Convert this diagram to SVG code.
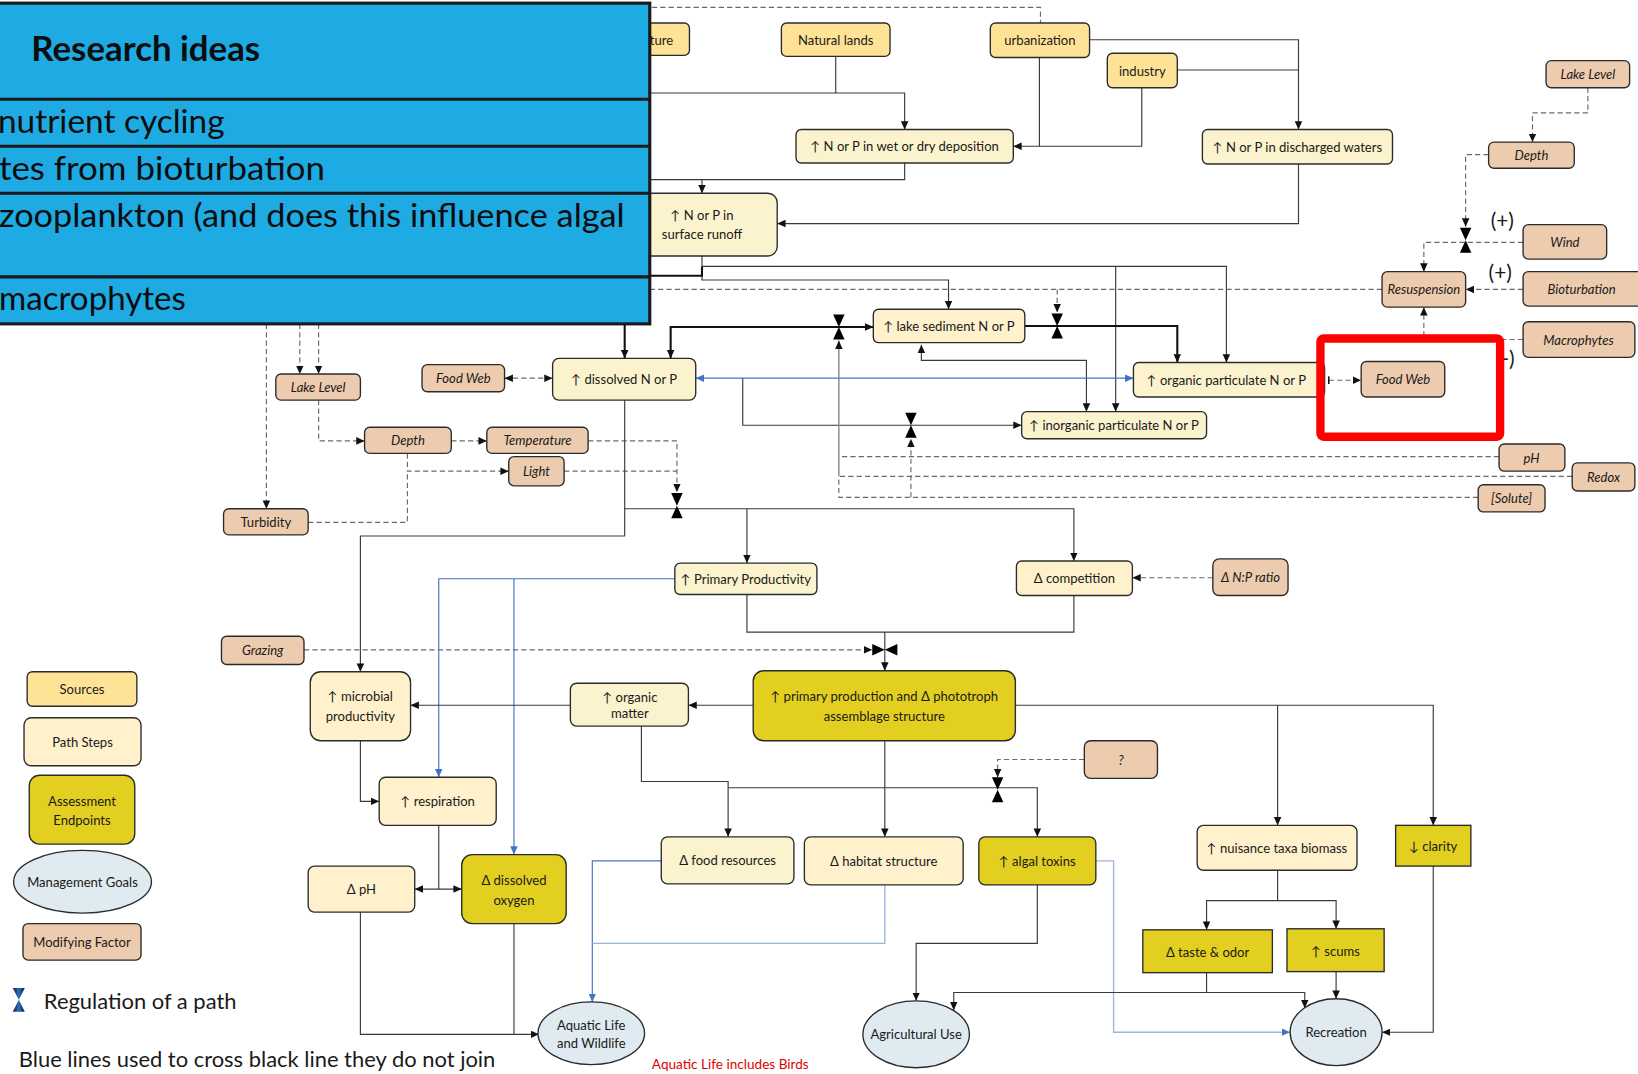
<svg xmlns="http://www.w3.org/2000/svg" width="1638" height="1074" viewBox="0 0 1638 1074">
<style>
.n rect,.n ellipse{stroke:#2b2b2b;stroke-width:1.3}
.src{fill:#FEE396}
.ps{fill:#FBF3CD}
.ps2{fill:#FEF1CC}
.ae{fill:#E3CF20}
.mg{fill:#DFEBF0}
.mf{fill:#EDCBAE}
text{font-family:Lato,"Open Sans","Liberation Sans",sans-serif;fill:#1a1a1a}
.t{font-size:12.5px;text-anchor:middle;dominant-baseline:central}
.i{font-style:italic}
.ln{fill:none;stroke:#3a3a3a;stroke-width:1.1}
.th{stroke:#111;stroke-width:2}
.gr{stroke:#8a8a8a;stroke-width:1.4}
.dl{fill:none;stroke:#6a6a6a;stroke-width:1.1;stroke-dasharray:5 3}
.bl{fill:none;stroke:#4472C4;stroke-width:1.1}
.blt{fill:none;stroke:#9DB4E0;stroke-width:1.3}
.hg{fill:#000}
.pt{font-size:31px;fill:#0d0d0d}
.pl{fill:none;stroke:#1a1a1a;stroke-width:3}
</style>
<defs>
<marker id="a" viewBox="0 0 10 10" refX="10" refY="5" markerWidth="8" markerHeight="8" markerUnits="userSpaceOnUse" orient="auto-start-reverse"><path d="M0,0.5 L10,5 L0,9.5 z" fill="#111"/></marker>
<marker id="ab" viewBox="0 0 10 10" refX="10" refY="5" markerWidth="8" markerHeight="8" markerUnits="userSpaceOnUse" orient="auto-start-reverse"><path d="M0,0.5 L10,5 L0,9.5 z" fill="#4472C4"/></marker>
<marker id="bar" viewBox="0 0 4 10" refX="2" refY="5" markerWidth="3" markerHeight="8" markerUnits="userSpaceOnUse" orient="auto"><rect x="1" y="0" width="2" height="10" fill="#111"/></marker>
<g id="hg"><polygon points="-5.5,-12 5.5,-12 0,0"/><polygon points="-5.5,12 5.5,12 0,0"/></g>
<linearGradient id="lg" x1="0" y1="0" x2="1" y2="0"><stop offset="0" stop-color="#0b1a3a"/><stop offset="0.5" stop-color="#2d6fc0"/><stop offset="1" stop-color="#0b1a3a"/></linearGradient>
</defs>
<g transform="scale(1.04464 1.04475)">
<rect x="-10" y="-10" width="1600" height="1060" fill="#fff"/>

<g id="connectors">
<!-- top sources -->
<path class="dl" d="M600 7 H996 V22"/>
<path class="ln" d="M800 54 V89"/>
<path class="ln" d="M600 89 H866 V124" marker-end="url(#a)"/>
<path class="ln" d="M995 55 V140 H970" marker-end="url(#a)"/>
<path class="ln" d="M1093 84 V140 H995"/>
<path class="ln" d="M1043 38 H1243 V124" marker-end="url(#a)"/>
<path class="ln" d="M1127 67 H1243"/>
<path class="ln" d="M866 156 V172 H600"/>
<path class="ln" d="M672 172 V185" marker-end="url(#a)"/>
<path class="ln" d="M1243 157 V214 H744" marker-end="url(#a)"/>
<!-- runoff outputs -->
<path class="ln" d="M672 245 V268 H908 V296" marker-end="url(#a)"/>
<path class="ln th" d="M672 255 V264 H598 V343" marker-end="url(#a)"/>
<path class="ln" d="M672 255 H1174 V347" marker-end="url(#a)"/>
<path class="ln" d="M1068 255 V394" marker-end="url(#a)"/>
<!-- sediment paths -->
<path class="ln th" d="M642 343 V313 H836" marker-start="url(#a)" marker-end="url(#a)"/>
<path class="ln th" d="M981 312 H1127 V347" marker-end="url(#a)"/>
<path class="ln" d="M882 330 V345 H1040 V394" marker-start="url(#a)" marker-end="url(#a)"/>
<path class="bl" d="M666 362 H1085" marker-start="url(#ab)" marker-end="url(#ab)"/>
<path class="ln" d="M711 362 V407 H978" marker-end="url(#a)"/>
<path class="dl" d="M1323 277 H600"/>
<path class="dl" d="M1012 277 V299" marker-end="url(#a)"/>
<path class="dl" d="M1272 364 H1303" marker-start="url(#bar)" marker-end="url(#a)"/>
<path class="dl" d="M483 362 H529" marker-start="url(#a)" marker-end="url(#a)"/>
<!-- right modifiers -->
<path class="dl" d="M1520 84 V108 H1467 V136" marker-end="url(#a)"/>
<path class="dl" d="M1425 148 H1403 V217" marker-end="url(#a)"/>
<path class="dl" d="M1458 232 H1363 V260" marker-end="url(#a)"/>
<path class="dl" d="M1458 277 H1403" marker-end="url(#a)"/>
<path class="dl" d="M1363 322 V294" marker-end="url(#a)"/>
<path class="dl" d="M1458 325 H1436"/>
<path class="dl" d="M1435 437 H804"/>
<path class="dl" d="M1505 456 H803"/>
<path class="dl" d="M1415 476 H803 V456"/>
<path class="dl" d="M872 476 V420" marker-end="url(#a)"/>
<path class="ln gr" d="M803 456 V326" marker-end="url(#a)"/>
<path class="dl" d="M1161 553 H1084" marker-end="url(#a)"/>
<!-- left modifiers -->
<path class="dl" d="M255 310 V487" marker-end="url(#a)"/>
<path class="dl" d="M287 310 V358" marker-end="url(#a)"/>
<path class="dl" d="M305 310 V358" marker-end="url(#a)"/>
<path class="dl" d="M305 383 V422 H349" marker-end="url(#a)"/>
<path class="dl" d="M432 422 H466" marker-end="url(#a)"/>
<path class="dl" d="M390 434 V451 H487" marker-end="url(#a)"/>
<path class="dl" d="M295 500 H390 V451"/>
<path class="dl" d="M563 422 H648 V471" marker-end="url(#a)"/>
<path class="dl" d="M540 451 H648"/>
<!-- dissolved outputs -->
<path class="ln" d="M598 383 V487 H1028 V537" marker-end="url(#a)"/>
<path class="ln" d="M715 487 V539" marker-end="url(#a)"/>
<path class="ln" d="M598 487 V513 H345 V643" marker-end="url(#a)"/>
<path class="bl" d="M646 554 H420 V744" marker-end="url(#ab)"/>
<path class="bl" d="M492 554 V818" marker-end="url(#ab)"/>
<path class="dl" d="M291 622 H835" marker-end="url(#a)"/>
<path class="ln" d="M715 569 V605 H1028 V570"/>
<path class="ln" d="M847 605 V642" marker-end="url(#a)"/>
<!-- lower -->
<path class="ln" d="M721 675 H659" marker-end="url(#a)"/>
<path class="ln" d="M546 675 H393" marker-end="url(#a)"/>
<path class="ln" d="M972 675 H1372 V790" marker-end="url(#a)"/>
<path class="ln" d="M1223 675 V790" marker-end="url(#a)"/>
<path class="ln" d="M847 709 V801" marker-end="url(#a)"/>
<path class="ln" d="M697 754 H993 V801" marker-end="url(#a)"/>
<path class="dl" d="M1038 727 H955 V744" marker-end="url(#a)"/>
<path class="ln" d="M614 695 V748 H697 V801" marker-end="url(#a)"/>
<path class="ln" d="M345 709 V767 H363" marker-end="url(#a)"/>
<path class="ln" d="M420 790 V851"/>
<path class="ln" d="M397 851 H442" marker-start="url(#a)" marker-end="url(#a)"/>
<path class="ln" d="M345 873 V990 H516" marker-end="url(#a)"/>
<path class="ln" d="M492 884 V990"/>
<path class="bl" d="M633 824 H567 V959" marker-end="url(#ab)"/>
<path class="blt" d="M847 847 V903 H567"/>
<path class="ln" d="M993 847 V903 H877 V958" marker-end="url(#a)"/>
<path class="blt" d="M1049 824 H1066 V988 H1235" marker-end="url(#ab)"/>
<path class="ln" d="M1223 833 V862 H1155 V890" marker-end="url(#a)"/>
<path class="ln" d="M1223 862 H1279 V889" marker-end="url(#a)"/>
<path class="ln" d="M1155 931 V950 H913 V967" marker-end="url(#a)"/>
<path class="ln" d="M1155 950 H1249 V965" marker-end="url(#a)"/>
<path class="ln" d="M1279 930 V956" marker-end="url(#a)"/>
<path class="ln" d="M1372 829 V988 H1323" marker-end="url(#a)"/>
<!-- regulation symbols -->
<use href="#hg" class="hg" transform="translate(1403 230)"/>
<use href="#hg" class="hg" transform="translate(803 313)"/>
<use href="#hg" class="hg" transform="translate(1012 312)"/>
<use href="#hg" class="hg" transform="translate(872 407)"/>
<use href="#hg" class="hg" transform="translate(648 484)"/>
<use href="#hg" class="hg" transform="translate(847 622) rotate(90)"/>
<use href="#hg" class="hg" transform="translate(955 756)"/>
</g>

<!-- Sources -->
<g id="agriculture" class="n"><rect class="src" x="540" y="22" width="120" height="31" rx="5"/><text class="t" x="622" y="38" style="text-anchor:start">ture</text></g>
<g id="natural-lands" class="n"><rect class="src" x="748" y="22" width="104" height="32" rx="5"/><text class="t" x="800" y="38">Natural lands</text></g>
<g id="urbanization" class="n"><rect class="src" x="948" y="22" width="95" height="33" rx="5"/><text class="t" x="995.5" y="38.5">urbanization</text></g>
<g id="industry" class="n"><rect class="src" x="1060" y="51" width="67" height="33" rx="5"/><text class="t" x="1093.5" y="67.5">industry</text></g>

<!-- Path steps -->
<g id="deposition" class="n"><rect class="ps" x="762" y="124" width="208" height="32" rx="5"/><text class="t" x="866" y="140">↑ N or P in wet or dry deposition</text></g>
<g id="discharged" class="n"><rect class="ps" x="1151" y="124" width="182" height="33" rx="5"/><text class="t" x="1242" y="140.5">↑ N or P in discharged waters</text></g>
<g id="runoff" class="n"><rect class="ps" x="600" y="185" width="144" height="60" rx="9"/><text class="t" x="672" y="206">↑ N or P in</text><text class="t" x="672" y="224">surface runoff</text></g>
<g id="dissolved" class="n"><rect class="ps" x="529" y="343" width="137" height="40" rx="6"/><text class="t" x="597.5" y="363">↑ dissolved N or P</text></g>
<g id="lake-sediment" class="n"><rect class="ps2" x="836" y="296" width="145" height="32" rx="5"/><text class="t" x="908.5" y="312">↑ lake sediment N or P</text></g>
<g id="organic-particulate" class="n"><rect class="ps" x="1085" y="347" width="183" height="33" rx="5"/><text class="t" x="1174" y="364">↑ organic particulate N or P</text></g>
<g id="inorganic-particulate" class="n"><rect class="ps" x="978" y="394" width="177" height="26" rx="5"/><text class="t" x="1066.5" y="407">↑ inorganic particulate N or P</text></g>
<g id="primary-productivity" class="n"><rect class="ps" x="646" y="539" width="136" height="30" rx="5"/><text class="t" x="714" y="554">↑ Primary Productivity</text></g>
<g id="competition" class="n"><rect class="ps2" x="973" y="537" width="111" height="33" rx="5"/><text class="t" x="1028.5" y="553.5">Δ competition</text></g>
<g id="microbial" class="n"><rect class="ps2" x="297" y="643" width="96" height="66" rx="10"/><text class="t" x="345" y="666">↑ microbial</text><text class="t" x="345" y="685">productivity</text></g>
<g id="organic-matter" class="n"><rect class="ps" x="546" y="654" width="113" height="41" rx="6"/><text class="t" x="603" y="667">↑ organic</text><text class="t" x="603" y="682">matter</text></g>
<g id="respiration" class="n"><rect class="ps2" x="363" y="744" width="112" height="46" rx="6"/><text class="t" x="419" y="767">↑ respiration</text></g>
<g id="ph" class="n"><rect class="ps2" x="295" y="829" width="102" height="44" rx="6"/><text class="t" x="346" y="851">Δ pH</text></g>
<g id="food-resources" class="n"><rect class="ps" x="633" y="801" width="127" height="45" rx="6"/><text class="t" x="696.5" y="823.5">Δ food resources</text></g>
<g id="habitat" class="n"><rect class="ps2" x="770" y="801" width="152" height="46" rx="6"/><text class="t" x="846" y="824">Δ habitat structure</text></g>
<g id="nuisance" class="n"><rect class="ps2" x="1146" y="790" width="153" height="43" rx="6"/><text class="t" x="1222.5" y="811.5">↑ nuisance taxa biomass</text></g>

<!-- Assessment endpoints -->
<g id="primary-production" class="n"><rect class="ae" x="721" y="642" width="251" height="67" rx="10"/><text class="t" x="846.5" y="666">↑ primary production and Δ phototroph</text><text class="t" x="846.5" y="685">assemblage structure</text></g>
<g id="dissolved-oxygen" class="n"><rect class="ae" x="442" y="818" width="100" height="66" rx="10"/><text class="t" x="492" y="842">Δ dissolved</text><text class="t" x="492" y="861">oxygen</text></g>
<g id="algal-toxins" class="n"><rect class="ae" x="937" y="801" width="112" height="46" rx="6"/><text class="t" x="993" y="824">↑ algal toxins</text></g>
<g id="clarity" class="n"><rect class="ae" x="1336" y="790" width="72" height="39"/><text class="t" x="1372" y="810">↓ clarity</text></g>
<g id="taste-odor" class="n"><rect class="ae" x="1094" y="890" width="124" height="41"/><text class="t" x="1156" y="911">Δ taste &amp; odor</text></g>
<g id="scums" class="n"><rect class="ae" x="1232" y="889" width="93" height="41"/><text class="t" x="1278.5" y="910">↑ scums</text></g>

<!-- Management goals -->
<g id="aquatic-life" class="n"><ellipse class="mg" cx="566" cy="989" rx="51" ry="30"/><text class="t" x="566" y="981">Aquatic Life</text><text class="t" x="566" y="998">and Wildlife</text></g>
<g id="agricultural-use" class="n"><ellipse class="mg" cx="877" cy="990" rx="51" ry="32"/><text class="t" x="877" y="990">Agricultural Use</text></g>
<g id="recreation" class="n"><ellipse class="mg" cx="1279" cy="988" rx="44" ry="32"/><text class="t" x="1279" y="988">Recreation</text></g>

<!-- Modifying factors -->
<g id="lake-level-r" class="n"><rect class="mf" x="1480" y="58" width="80" height="26" rx="5"/><text class="t i" x="1520" y="71">Lake Level</text></g>
<g id="depth-r" class="n"><rect class="mf" x="1425" y="136" width="82" height="25" rx="5"/><text class="t i" x="1466" y="148.5">Depth</text></g>
<g id="wind" class="n"><rect class="mf" x="1458" y="215" width="80" height="33" rx="5"/><text class="t i" x="1498" y="231.5">Wind</text></g>
<g id="bioturbation" class="n"><rect class="mf" x="1458" y="260" width="118" height="33" rx="5"/><text class="t i" x="1514" y="276.5">Bioturbation</text></g>
<g id="resuspension" class="n"><rect class="mf" x="1323" y="260" width="80" height="34" rx="5"/><text class="t i" x="1363" y="277">Resuspension</text></g>
<g id="macrophytes" class="n"><rect class="mf" x="1458" y="308" width="107" height="34" rx="5"/><text class="t i" x="1511" y="325">Macrophytes</text></g>
<g id="food-web-r" class="n"><rect class="mf" x="1303" y="346" width="80" height="34" rx="5"/><text class="t i" x="1343" y="363">Food Web</text></g>
<g id="ph-mod" class="n"><rect class="mf" x="1435" y="425" width="63" height="26" rx="5"/><text class="t i" x="1466" y="438">pH</text></g>
<g id="redox" class="n"><rect class="mf" x="1505" y="443" width="60" height="27" rx="5"/><text class="t i" x="1535" y="456.5">Redox</text></g>
<g id="solute" class="n"><rect class="mf" x="1415" y="464" width="64" height="26" rx="5"/><text class="t i" x="1447" y="477">[Solute]</text></g>
<g id="food-web-l" class="n"><rect class="mf" x="404" y="349" width="79" height="26" rx="5"/><text class="t i" x="443.5" y="362">Food Web</text></g>
<g id="lake-level-l" class="n"><rect class="mf" x="264" y="358" width="81" height="25" rx="5"/><text class="t i" x="304.5" y="370.5">Lake Level</text></g>
<g id="depth-l" class="n"><rect class="mf" x="349" y="409" width="83" height="25" rx="5"/><text class="t i" x="390.5" y="421.5">Depth</text></g>
<g id="temperature" class="n"><rect class="mf" x="466" y="409" width="97" height="25" rx="5"/><text class="t i" x="514.5" y="421.5">Temperature</text></g>
<g id="light" class="n"><rect class="mf" x="487" y="437" width="53" height="28" rx="5"/><text class="t i" x="513.5" y="451">Light</text></g>
<g id="turbidity" class="n"><rect class="mf" x="214" y="487" width="81" height="25" rx="5"/><text class="t" x="254.5" y="499.5">Turbidity</text></g>
<g id="np-ratio" class="n"><rect class="mf" x="1161" y="535" width="72" height="35" rx="6"/><text class="t i" x="1197" y="552.5">Δ N:P ratio</text></g>
<g id="grazing" class="n"><rect class="mf" x="212" y="609" width="79" height="27" rx="5"/><text class="t i" x="251.5" y="622.5">Grazing</text></g>
<g id="unknown" class="n"><rect class="mf" x="1038" y="709" width="70" height="36" rx="6"/><text class="t i" x="1073" y="727">?</text></g>

<text x="1427" y="218" font-size="20">(+)</text>
<text x="1425" y="268" font-size="20">(+)</text>
<text x="1437" y="350" font-size="20">-)</text>

<!-- highlight -->
<rect x="1264" y="324" width="172" height="94" rx="3" fill="none" stroke="#FF0000" stroke-width="8"/>

<!-- Legend -->
<g id="legend-sources" class="n"><rect class="src" x="26" y="643" width="105" height="33" rx="5"/><text class="t" x="78.5" y="659.5">Sources</text></g>
<g id="legend-path" class="n"><rect class="ps2" x="23" y="687" width="112" height="46" rx="7"/><text class="t" x="79" y="710">Path Steps</text></g>
<g id="legend-ae" class="n"><rect class="ae" x="28" y="742" width="101" height="66" rx="10"/><text class="t" x="78.5" y="767">Assessment</text><text class="t" x="78.5" y="785">Endpoints</text></g>
<g id="legend-mg" class="n"><ellipse class="mg" cx="79" cy="844" rx="66" ry="30"/><text class="t" x="79" y="844">Management Goals</text></g>
<g id="legend-mf" class="n"><rect class="mf" x="22" y="884" width="113" height="35" rx="5"/><text class="t" x="78.5" y="902">Modifying Factor</text></g>
<use href="#hg" fill="url(#lg)" transform="translate(18 957) scale(1.05 0.95)"/>
<text x="42" y="966" font-size="21">Regulation of a path</text>
<text x="18" y="1021" font-size="21">Blue lines used to cross black line they do not join</text>
<text x="624" y="1023" font-size="13" style="fill:#E00000">Aquatic Life includes Birds</text>

<!-- Research ideas panel -->
<g id="research-ideas">
<rect x="-10" y="3" width="632" height="307" fill="#1EAAE2"/>
<path class="pl" d="M-10 95 H622 M-10 140 H622 M-10 185 H622 M-10 265 H622"/>
<rect x="-10" y="3" width="632" height="307" class="pl"/>
<text x="30" y="58" font-size="32" font-weight="bold" style="fill:#0d0d0d" textLength="219" lengthAdjust="spacingAndGlyphs">Research ideas</text>
<text class="pt" x="-2" y="127" textLength="217" lengthAdjust="spacingAndGlyphs">nutrient cycling</text>
<text class="pt" x="-1" y="172" textLength="312" lengthAdjust="spacingAndGlyphs">tes from bioturbation</text>
<text class="pt" x="-1" y="217" textLength="599" lengthAdjust="spacingAndGlyphs">zooplankton (and does this influence algal</text>
<text class="pt" x="-1" y="297" textLength="179" lengthAdjust="spacingAndGlyphs">macrophytes</text>
</g>
</g>
</svg>
